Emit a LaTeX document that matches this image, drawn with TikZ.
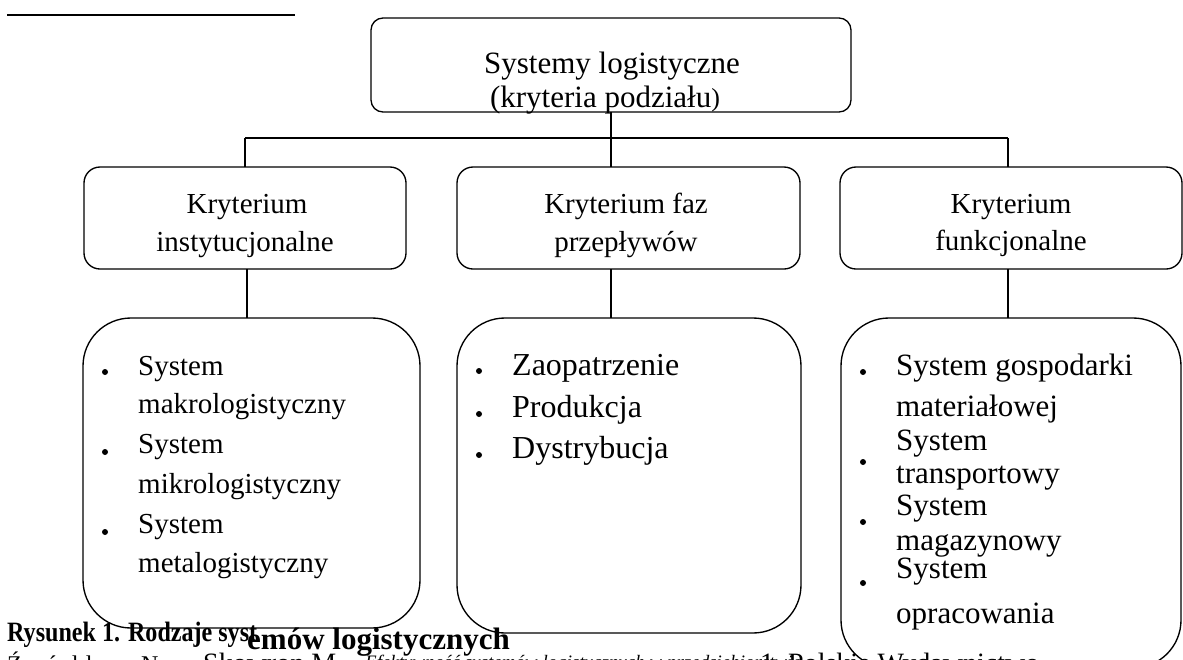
\documentclass[tikz,border=0pt]{standalone}
\usepackage{fontspec}
\setmainfont{Liberation Serif}
\newcommand{\fsz}[1]{\fontsize{#1}{#1}\selectfont}
\begin{document}
\begin{tikzpicture}[x=1pt,y=-1pt,
  box/.style={draw,line width=1.35pt,rounded corners=#1,inner sep=0pt,outer sep=0pt},
  box/.default=15pt,
  conn/.style={draw,line width=1.3pt},
  txt/.style={inner sep=0pt,anchor=base},
  ltxt/.style={inner sep=0pt,anchor=base west},
  dot/.style={circle,fill,inner sep=0pt,minimum size=6pt}]
\useasboundingbox (0,0) rectangle (1183,659);

% top-left rule
\draw[line width=2pt] (7,15) -- (295,15);

% boxes
\node[box=12pt, minimum width=480pt, minimum height=94pt] (top) at (611,65) {};
\node[box=16pt, minimum width=322pt, minimum height=102pt] (k1) at (245,218) {};
\node[box=16pt, minimum width=343pt, minimum height=102pt] (k2) at (628.5,218) {};
\node[box=16pt, minimum width=342pt, minimum height=102pt] (k3) at (1011,218) {};
\node[box=48pt, minimum width=337pt, minimum height=310pt] (b1) at (251.5,473) {};
\node[box=48pt, minimum width=344pt, minimum height=315pt] (b2) at (629,475.5) {};
\node[box=48pt, minimum width=340pt, minimum height=350pt] (b3) at (1011,493) {};

% connectors
\coordinate (barL) at (245,138);
\coordinate (barR) at (1008,138);
\draw[conn] (top.south) -- (top.south |- k2.north);
\draw[conn] (barL) -- (barR);
\draw[conn] (barL) -- (barL |- k1.north);
\draw[conn] (barR) -- (barR |- k3.north);
\draw[conn] ([xshift=2pt]k1.south) -- ([xshift=2pt]k1.south |- b1.north);
\draw[conn] (top.south |- k2.south) -- (top.south |- b2.north);
\draw[conn] (barR |- k3.south) -- (barR |- b3.north);

% top text
\node[txt, font=\fsz{31}] (t1) at (612,73) {Systemy logistyczne};
\node[txt, font=\fsz{31}] (t2) at (605,107) {(kryteria podziału\raisebox{1pt}{\fsz{26})}};

% level 2 text
\node[txt, font=\fsz{29}] (k1a) at (247,213) {Kryterium};
\node[txt, font=\fsz{29}] (k1b) at (245,251) {instytucjonalne};
\node[txt, font=\fsz{29}] (k2a) at (626,213) {Kryterium faz};
\node[txt, font=\fsz{29}] (k2b) at (626,251) {przepływów};
\node[txt, font=\fsz{29}] (k3a) at (1011,213) {Kryterium};
\node[txt, font=\fsz{29}] (k3b) at (1011,250) {funkcjonalne};

% left list
\node[dot] (d11) at (105,372) {};
\node[dot] (d12) at (105,452) {};
\node[dot] (d13) at (105,532) {};
\node[ltxt, font=\fsz{29}] (l11) at (138,375) {System};
\node[ltxt, font=\fsz{29}] (l12) at (138,413) {makrologistyczny};
\node[ltxt, font=\fsz{29}] (l13) at (138,453) {System};
\node[ltxt, font=\fsz{29}] (l14) at (138,493) {mikrologistyczny};
\node[ltxt, font=\fsz{29}] (l15) at (138,533) {System};
\node[ltxt, font=\fsz{29}] (l16) at (138,572) {metalogistyczny};

% middle list
\node[dot] (d21) at (479,371) {};
\node[dot] (d22) at (479,414) {};
\node[dot] (d23) at (479,455) {};
\node[ltxt, font=\fsz{32}] (l21) at (512,375) {Zaopatrzenie};
\node[ltxt, font=\fsz{32}] (l22) at (512,417) {Produkcja};
\node[ltxt, font=\fsz{32}] (l23) at (512,458) {Dystrybucja};

% right list
\node[dot] (d31) at (863,372) {};
\node[dot] (d32) at (863,462) {};
\node[dot] (d33) at (863,522) {};
\node[dot] (d34) at (863,583) {};
\node[ltxt, font=\fsz{31}] (l31) at (896,375) {System gospodarki};
\node[ltxt, font=\fsz{31}] (l32) at (896,416) {materiałowej};
\node[ltxt, font=\fsz{31}] (l33) at (896,450) {System};
\node[ltxt, font=\fsz{31}] (l34) at (896,483) {transportowy};
\node[ltxt, font=\fsz{31}] (l35) at (896,515) {System};
\node[ltxt, font=\fsz{31}] (l36) at (896,550) {magazynowy};
\node[ltxt, font=\fsz{31}] (l37) at (896,578) {System};
\node[ltxt, font=\fsz{31}] (l38) at (896,623) {opracowania};

% caption
\node[ltxt, font=\fsz{28}\bfseries] (cap1) at (7,641) {\scalebox{0.86}[1]{Rysunek 1. Rodzaje syst}};
\node[ltxt, font=\fsz{31}\bfseries] (cap2) at (247,649) {emów logistycznych};

% source line (cut by the page edge)
\node[ltxt, font=\fsz{24}] (s1) at (7,672) {Ź\,\,r\,\,ó\,\,d\,\,ł\,\,o\,:\ \ \ N\,a};
\node[ltxt, font=\fsz{28}] (s2) at (203,672) {Skowron M.,};
\node[ltxt, font=\fsz{19}\itshape] (s3) at (365,668) {Efektywność systemów logistycznych w przedsiębiorstwie};
\node[ltxt, font=\fsz{28}] (s4) at (760,672) {1, Polskie Wydawnictwo};
\end{tikzpicture}
\end{document}
